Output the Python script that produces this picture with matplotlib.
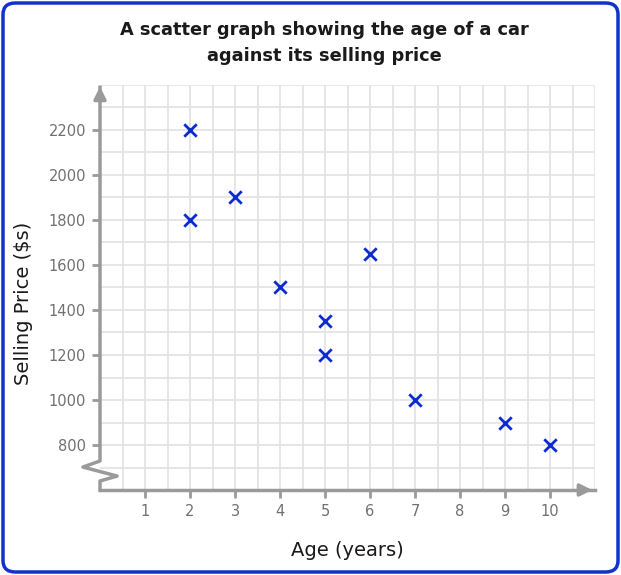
import matplotlib.pyplot as plt
from matplotlib.patches import FancyBboxPatch
import numpy as np

ages = [2, 2, 3, 4, 5, 5, 6, 7, 9, 10]
prices = [2200, 1800, 1900, 1500, 1350, 1200, 1650, 1000, 900, 800]
x_ticks = list(range(1, 11))
y_ticks = list(range(800, 2201, 200))

plt.rcParams['font.family'] = ['DejaVu Sans']
axis_grey = '#9a9a9a'

fig = plt.figure(figsize=(6.21, 5.75), dpi=100)
ax = fig.add_axes([100/621, 85/575, 495/621, 405/575])

ax.set_xlim(0, 11)
ax.set_ylim(600, 2400)

# grid every half year / every 100 dollars
ax.set_xticks(np.arange(0.5, 11.01, 0.5), minor=True)
ax.set_yticks(np.arange(700, 2401, 100), minor=True)
ax.grid(which='both', color='#e2e2e2', lw=1.2)
ax.tick_params(which='minor', length=0)
ax.set_axisbelow(True)

ax.set_xticks(x_ticks)
ax.set_yticks(y_ticks)
ax.tick_params(which='major', direction='out', length=6, width=2, color=axis_grey,
               labelcolor='#707070', labelsize=10.5, pad=4)

for s in ['top', 'right', 'left']:
    ax.spines[s].set_visible(False)
ax.spines['bottom'].set_color(axis_grey)
ax.spines['bottom'].set_linewidth(2.5)

# y axis with break zigzag
ax.plot([0, 0, 0.38, -0.38, 0, 0], [600, 640, 662, 702, 729, 2390],
        color=axis_grey, lw=2.5, clip_on=False, zorder=3)

# arrows
ax.annotate('', xy=(0, 2405), xytext=(0, 2330),
            arrowprops=dict(arrowstyle='-|>', color=axis_grey, lw=2.5,
                            mutation_scale=18), annotation_clip=False)
ax.annotate('', xy=(11, 600), xytext=(10.6, 600),
            arrowprops=dict(arrowstyle='-|>', color=axis_grey, lw=2.5,
                            mutation_scale=18), annotation_clip=False)

ax.scatter(ages, prices, marker='x', color='#0b2bd0', s=80, linewidths=2, zorder=4,
           clip_on=False)

ax.set_xlabel('Age (years)', fontsize=14, color='#1a1a1a', labelpad=16)
ax.set_ylabel('Selling Price ($s)', fontsize=14, color='#1a1a1a')
ax.yaxis.set_label_coords(-67/495, 0.46)

fig.text(0.523, 1 - 43/575, 'A scatter graph showing the age of a car\nagainst its selling price',
         ha='center', va='center', fontsize=12.8, fontweight='bold', color='#1a1a1a',
         linespacing=1.55)

border = FancyBboxPatch((3/621, 3/575), 615/621, 569/575,
                        boxstyle='round,pad=0,rounding_size=0.02',
                        transform=fig.transFigure, fill=False,
                        edgecolor='#1133cc', lw=2.5)
fig.patches.append(border)

fig.savefig('out.png', dpi=100)
